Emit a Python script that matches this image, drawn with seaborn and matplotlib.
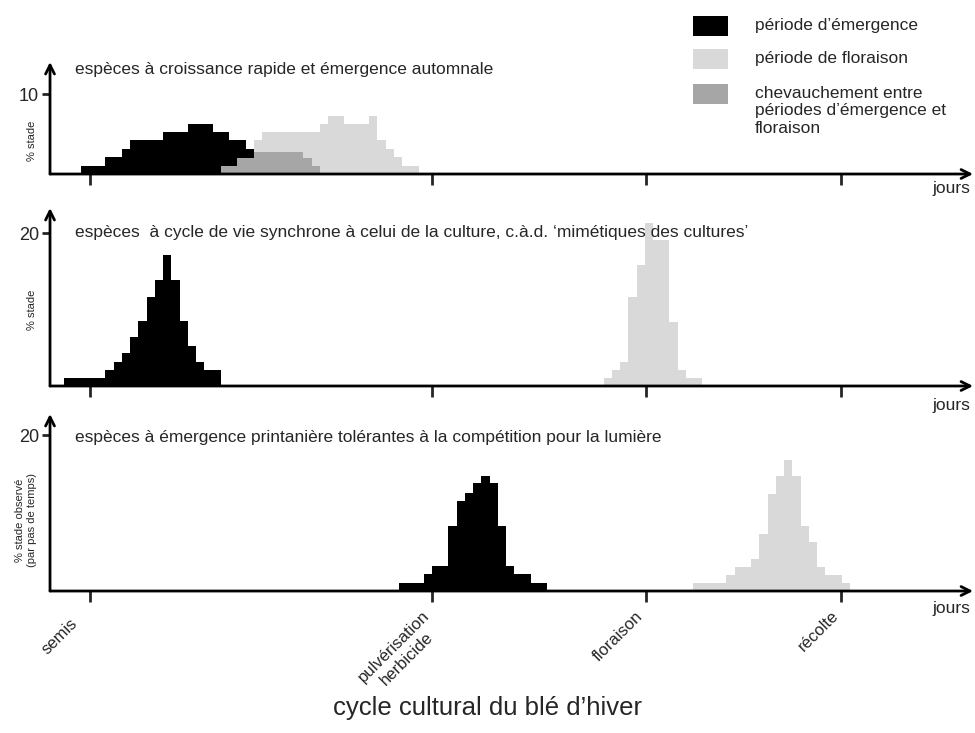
import numpy as np
import pandas as pd
import seaborn as sns
import matplotlib.pyplot as plt
from matplotlib.patches import Rectangle
from matplotlib.transforms import ScaledTranslation

# couleurs
c_emerg = '#000000'
c_flor = '#d9d9d9'
c_chev = '#a6a6a6'

# reperes du cycle cultural (en pas de temps)
repere_pos = [3.15, 44.6, 70.5, 94.2]
repere_lab = ['semis', 'pulvérisation\nherbicide', 'floraison', 'récolte']

# groupe 1 : croissance rapide, emergence automnale
g1_emerg_debut = 2
g1_emerg = [1.05, 1.05, 1.05, 2.1, 2.1, 3.1, 4.2, 4.2, 4.2, 4.2, 5.2, 5.2, 5.2,
            6.2, 6.2, 6.2, 5.2, 5.2, 4.2, 4.2, 3.1, 2.8, 2.8, 2.8, 2.8, 2.8, 2.8,
            2.0, 1.0]
g1_flor_debut = 19
g1_flor = [1.0, 1.0, 2.0, 2.0, 4.2, 5.2, 5.2, 5.2, 5.2, 5.2, 5.2, 5.2, 6.2,
           7.2, 7.2, 6.2, 6.2, 6.2, 7.2, 4.2, 3.1, 2.1, 1.05, 1.05]

# groupe 2 : mimetiques des cultures
g2_emerg_debut = 0
g2_emerg = [1.1, 1.1, 1.1, 1.1, 1.1, 2.1, 3.2, 4.3, 6.4, 8.5, 11.7, 13.9, 17.1,
            13.9, 8.5, 5.3, 3.2, 2.1, 2.1]
g2_flor_debut = 65.4
g2_flor = [1.0, 2.1, 3.1, 11.7, 15.9, 21.3, 19.1, 19.1, 8.4, 2.1, 1.0, 1.0]

# groupe 3 : emergence printaniere
g3_emerg_debut = 40.6
g3_emerg = [1.07, 1.07, 1.07, 2.15, 3.2, 3.2, 8.4, 11.6, 12.6, 13.8, 14.8, 13.8,
            8.4, 3.2, 2.15, 2.15, 1.07, 1.07]
g3_flor_debut = 76.3
g3_flor = [1.0, 1.0, 1.0, 1.0, 2.1, 3.1, 3.1, 4.1, 7.3, 12.5, 14.7, 16.8, 14.7,
           8.4, 6.3, 3.1, 2.1, 2.1, 1.0]

titres = ['espèces à croissance rapide et émergence automnale',
          'espèces  à cycle de vie synchrone à celui de la culture, c.à.d. ‘mimétiques des cultures’',
          'espèces à émergence printanière tolérantes à la compétition pour la lumière']


def hist_pas(ax, debut, valeurs, couleur):
    n = len(valeurs)
    df = pd.DataFrame({'t': debut + np.arange(n) + 0.5, 'pct': valeurs})
    sns.histplot(data=df, x='t', weights='pct', bins=n,
                 binrange=(debut, debut + n), element='step',
                 fill=True, color=couleur, alpha=1, linewidth=0, ax=ax)


def chevauchement(d1, v1, d2, v2):
    deb = max(d1, d2)
    fin = min(d1 + len(v1), d2 + len(v2))
    return deb, [min(v1[k - d1], v2[k - d2]) for k in range(deb, fin)]


sns.set_style('ticks')
plt.rcParams['font.family'] = ['Liberation Sans', 'DejaVu Sans']

fig = plt.figure(figsize=(9.75, 7.33), dpi=100)

x_lim = (-1.7, 110.2)
positions = [[0.0513, 0.7626, 0.9467, 0.1528],
             [0.0513, 0.4734, 0.9467, 0.2428],
             [0.0513, 0.1937, 0.9467, 0.2415]]
y_max = [14, 23.3, 22.7]
y_tick = [10, 20, 20]
y_labels = ['% stade', '% stade', '% stade observé\n(par pas de temps)']
y_lab_pos = [(-0.014, 0.30), (-0.014, 0.43), (-0.014, 0.40)]
titre_y = [0.93, 0.865, 0.87]
jours_y = [-0.125, -0.107, -0.096]

donnees = [(g1_emerg_debut, g1_emerg, g1_flor_debut, g1_flor),
           (g2_emerg_debut, g2_emerg, g2_flor_debut, g2_flor),
           (g3_emerg_debut, g3_emerg, g3_flor_debut, g3_flor)]

for i, (de, ve, df, vf) in enumerate(donnees):
    ax = fig.add_axes(positions[i])
    hist_pas(ax, df, vf, c_flor)
    hist_pas(ax, de, ve, c_emerg)
    if i == 0:
        dc, vc = chevauchement(de, ve, df, vf)
        hist_pas(ax, dc, vc, c_chev)

    ax.set_xlim(*x_lim)
    ax.set_ylim(0, y_max[i])
    for s in ax.spines.values():
        s.set_visible(False)

    # axes avec fleches
    fl = dict(arrowstyle='->', lw=2, color='black', shrinkA=0, shrinkB=0,
              mutation_scale=16)
    ax.annotate('', xy=(1, 0), xytext=(0, 0), xycoords='axes fraction',
                arrowprops=fl, annotation_clip=False, zorder=5)
    ax.annotate('', xy=(0, 1), xytext=(0, 0), xycoords='axes fraction',
                arrowprops=fl, annotation_clip=False, zorder=5)

    ax.set_xticks(repere_pos)
    ax.set_yticks([y_tick[i]])
    ax.tick_params(axis='x', direction='out', length=8, width=2,
                   bottom=True, labelsize=12, pad=3)
    ax.tick_params(axis='y', direction='out', length=6, width=2,
                   left=True, labelsize=13, pad=2)
    if i < 2:
        ax.set_xticklabels([])
    else:
        labs = ax.set_xticklabels(repere_lab, rotation=45, ha='right',
                                  rotation_mode='anchor', multialignment='center')
        decal = [(-0.2, -0.1), (-0.1, -0.02), (-0.1, -0.02), (-0.1, -0.02)]
        for lab, (dx, dy) in zip(labs, decal):
            lab.set_transform(lab.get_transform() +
                              ScaledTranslation(dx, dy, fig.dpi_scale_trans))
    ax.set_xlabel('')
    ax.set_ylabel(y_labels[i], fontsize=8)
    ax.yaxis.set_label_coords(*y_lab_pos[i])

    ax.text(0.027, titre_y[i], titres[i], transform=ax.transAxes,
            fontsize=12.5, ha='left', va='center')
    ax.text(0.977, jours_y[i], 'jours', transform=ax.transAxes,
            fontsize=12.5, ha='center', va='center')

# legende
leg_items = [(c_emerg, 'période d’émergence', 26),
             (c_flor, 'période de floraison', 59),
             (c_chev, 'chevauchement entre\npériodes d’émergence et\nfloraison', 94)]
for couleur, texte, yc in leg_items:
    fig.add_artist(Rectangle((693 / 975, 1 - (yc + 9.5) / 733), 35 / 975, 19 / 733,
                             transform=fig.transFigure, facecolor=couleur,
                             edgecolor='none'))
    fig.text(755 / 975, 1 - (yc - 8) / 733, texte, fontsize=12.5, ha='left',
             va='top', linespacing=1.2)

fig.text(0.5, 1 - 708 / 733, 'cycle cultural du blé d’hiver', fontsize=18.5,
         ha='center', va='center')

fig.savefig('out.png', dpi=100)
